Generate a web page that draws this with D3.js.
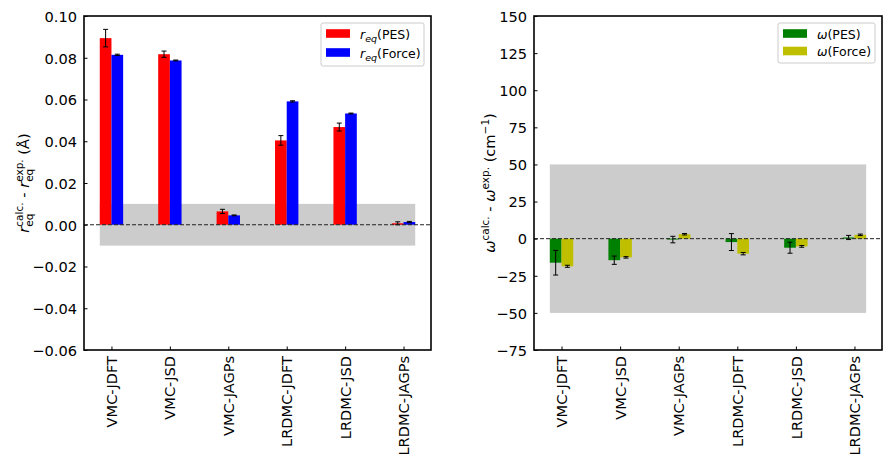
<!DOCTYPE html>
<html>
<head>
<meta charset="utf-8">
<script src="https://cdn.jsdelivr.net/npm/d3@7"></script>
<style>
  body { margin: 0; background: #fff; }
  svg { font-family: "DejaVu Sans", sans-serif; }
  svg text { white-space: pre; }
  .tick-label { font-size: 14.6px; fill: #000; }
</style>
</head>
<body>
<svg id="chart" width="894" height="463"></svg>
<script>
// categories
var methods = ["VMC-JDFT", "VMC-JSD", "VMC-JAGPs", "LRDMC-JDFT", "LRDMC-JSD", "LRDMC-JAGPs"];

// bond length deviations (Angstrom)
var reqPES      = [0.0894, 0.0817, 0.0064, 0.0404, 0.0468, 0.0007];
var reqPESErr   = [0.0042, 0.0015, 0.0010, 0.0023, 0.0019, 0.0007];
var reqForce    = [0.0814, 0.0787, 0.0045, 0.0591, 0.0533, 0.0013];
var reqForceErr = [0.0003, 0.0002, 0.0002, 0.0003, 0.0002, 0.0003];
var reqTicks    = [-0.06, -0.04, -0.02, 0.00, 0.02, 0.04, 0.06, 0.08, 0.10];

// frequency deviations (cm^-1)
var omegaPES      = [-16.2, -14.5, -0.6, -2.3, -6.1, 0.8];
var omegaPESErr   = [8.3, 2.8, 2.2, 5.7, 3.7, 1.4];
var omegaForce    = [-18.6, -12.6, 3.0, -10.1, -5.2, 2.6];
var omegaForceErr = [0.7, 0.5, 0.5, 0.8, 0.6, 0.5];
var omegaTicks    = [-75, -50, -25, 0, 25, 50, 75, 100, 125, 150];

var svg = d3.select("#chart");

var panels = [
  {
    "x0": 84, "x1": 431, "y0": 16, "y1": 350,
    "yDomain": [-0.06, 0.10], "ticks": reqTicks, "fmt": d3.format(".2f"),
    "band": [-0.01, 0.01],
    "series": [
      {"values": reqPES, "errs": reqPESErr, "color": "#ff0000", "name": "PES"},
      {"values": reqForce, "errs": reqForceErr, "color": "#0000ff", "name": "Force"}
    ],
    "symbol": "r", "sub": "eq",
    "labelX": 24,
    "legend": {"x": 321, "y": 23, "w": 103, "h": 43}
  },
  {
    "x0": 534, "x1": 882, "y0": 16, "y1": 350,
    "yDomain": [-75, 150], "ticks": omegaTicks, "fmt": d3.format("d"),
    "band": [-50, 50],
    "series": [
      {"values": omegaPES, "errs": omegaPESErr, "color": "#008000", "name": "PES"},
      {"values": omegaForce, "errs": omegaForceErr, "color": "#bfbf00", "name": "Force"}
    ],
    "symbol": "\u03c9", "sub": null,
    "labelX": 490,
    "legend": {"x": 778, "y": 23, "w": 97, "h": 40}
  }
];

function minusFmt(fmt) {
  return function(d) { return fmt(d).replace("-", "\u2212"); };
}

// appends text pieces one after another; stacked sup/sub share x
function richText(g, pieces, size) {
  var x = 0;
  pieces.forEach(function(p) {
    var widths = [];
    var parts = p.stack ? p.stack : [p];
    parts.forEach(function(q) {
      var t = g.append("text")
        .attr("x", x)
        .attr("y", q.dy || 0)
        .style("font-size", (q.size || size) + "px")
        .style("font-style", q.italic ? "italic" : "normal")
        .text(q.text);
      widths.push(t.node().getComputedTextLength());
    });
    x += d3.max(widths);
  });
  return x;
}

function drawPanel(p) {
  var x = d3.scaleLinear().domain([-0.47, 5.47]).range([p.x0, p.x1]);
  var y = d3.scaleLinear().domain(p.yDomain).range([p.y1, p.y0]);
  var barW = x(0.2) - x(0);
  var g = svg.append("g");

  // shaded tolerance band
  g.append("rect")
    .attr("x", x(-0.2))
    .attr("width", x(5.2) - x(-0.2))
    .attr("y", y(p.band[1]))
    .attr("height", y(p.band[0]) - y(p.band[1]))
    .attr("fill", "#cccccc");

  p.series.forEach(function(s, si) {
    var off = si === 0 ? -0.2 : 0;
    g.selectAll(null)
      .data(s.values)
      .enter()
      .append("rect")
      .attr("x", function(d, i) { return x(i + off); })
      .attr("width", barW)
      .attr("y", function(d) { return y(Math.max(d, 0)); })
      .attr("height", function(d) { return Math.abs(y(d) - y(0)); })
      .attr("fill", s.color);

    // error bars
    var eb = g.selectAll(null)
      .data(s.values.map(function(v, i) { return {"i": i, "v": v, "e": s.errs[i]}; }))
      .enter()
      .append("g")
      .attr("stroke", "#000")
      .attr("stroke-width", 1);
    eb.append("line")
      .attr("x1", function(d) { return x(d.i + off + 0.1); })
      .attr("x2", function(d) { return x(d.i + off + 0.1); })
      .attr("y1", function(d) { return y(d.v - d.e); })
      .attr("y2", function(d) { return y(d.v + d.e); });
    [-1, 1].forEach(function(sign) {
      eb.append("line")
        .attr("x1", function(d) { return x(d.i + off + 0.1) - 2.5; })
        .attr("x2", function(d) { return x(d.i + off + 0.1) + 2.5; })
        .attr("y1", function(d) { return y(d.v + sign * d.e); })
        .attr("y2", function(d) { return y(d.v + sign * d.e); });
    });
  });

  // zero reference line
  g.append("line")
    .attr("x1", p.x0).attr("x2", p.x1)
    .attr("y1", y(0)).attr("y2", y(0))
    .attr("stroke", "#222")
    .attr("stroke-width", 1)
    .attr("stroke-dasharray", "4,2");

  // axes (ticks pointing inward)
  var ay = g.append("g")
    .attr("transform", "translate(" + p.x0 + ",0)")
    .call(d3.axisLeft(y).tickValues(p.ticks).tickFormat(minusFmt(p.fmt))
      .tickSizeInner(-3.5).tickSizeOuter(0).tickPadding(7));
  var ax = g.append("g")
    .attr("transform", "translate(0," + p.y1 + ")")
    .call(d3.axisBottom(x).tickValues(d3.range(methods.length))
      .tickFormat(function(i) { return methods[i]; })
      .tickSizeInner(-3.5).tickSizeOuter(0).tickPadding(0));
  [ay, ax].forEach(function(a) {
    a.select(".domain").remove();
    a.selectAll("line").attr("stroke", "#000").attr("stroke-width", 1);
    a.selectAll("text").attr("class", "tick-label").style("font-family", "DejaVu Sans");
  });
  ay.selectAll("text").attr("dy", "0.36em");
  ax.selectAll("text")
    .attr("transform", "rotate(-90)")
    .attr("text-anchor", "end")
    .attr("x", -6)
    .attr("y", 0)
    .attr("dy", "0.35em");

  // frame
  g.append("rect")
    .attr("x", p.x0).attr("y", p.y0)
    .attr("width", p.x1 - p.x0).attr("height", p.y1 - p.y0)
    .attr("fill", "none")
    .attr("stroke", "#000")
    .attr("stroke-width", 1.6);

  // y-axis label
  var lab = g.append("g").attr("fill", "#000");
  var pieces;
  if (p.sub) {
    pieces = [
      {"text": p.symbol, "italic": true},
      {"stack": [{"text": "calc.", "size": 10.5, "dy": -6}, {"text": p.sub, "size": 10.5, "dy": 4}]},
      {"text": " - "},
      {"text": p.symbol, "italic": true},
      {"stack": [{"text": "exp.", "size": 10.5, "dy": -6}, {"text": p.sub, "size": 10.5, "dy": 4}]},
      {"text": " (\u00c5)"}
    ];
  } else {
    pieces = [
      {"text": p.symbol, "italic": true},
      {"text": "calc.", "size": 10.5, "dy": -6},
      {"text": " - "},
      {"text": p.symbol, "italic": true},
      {"text": "exp.", "size": 10.5, "dy": -6},
      {"text": " (cm"},
      {"text": "\u22121", "size": 10.5, "dy": -6},
      {"text": ")"}
    ];
  }
  var inner = lab.append("g");
  var w = richText(inner, pieces, 14.6);
  lab.attr("transform", "translate(" + (p.labelX + 5) + "," + ((p.y0 + p.y1) / 2) + ") rotate(-90)");
  inner.attr("transform", "translate(" + (-w / 2) + ",0)");

  // legend
  var L = p.legend;
  var lg = g.append("g").attr("transform", "translate(" + L.x + "," + L.y + ")");
  lg.append("rect")
    .attr("width", L.w).attr("height", L.h)
    .attr("rx", 2)
    .attr("fill", "#fff").attr("fill-opacity", 0.8)
    .attr("stroke", "#cccccc");
  var rowH = p.sub ? 19 : 17.5;
  p.series.forEach(function(s, si) {
    var cy = 10.5 + si * rowH;
    lg.append("rect")
      .attr("x", 5).attr("y", cy - 4.3)
      .attr("width", 24).attr("height", 8.6)
      .attr("fill", s.color);
    var tg = lg.append("g").attr("transform", "translate(39," + (cy + 5) + ")");
    var items = [{"text": p.symbol, "italic": true}];
    if (p.sub) items.push({"text": p.sub, "italic": true, "size": 9.5, "dy": 3});
    items.push({"text": "(" + s.name + ")"});
    richText(tg, items, 12.5);
  });
}

panels.forEach(drawPanel);
</script>
</body>
</html>
